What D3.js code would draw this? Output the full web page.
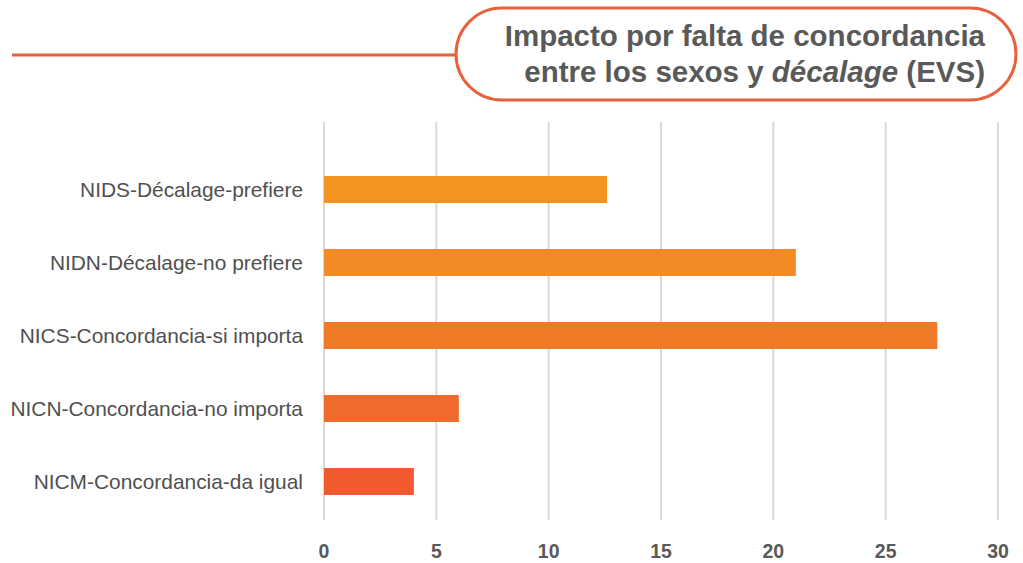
<!DOCTYPE html>
<html lang="es">
<head>
    <meta charset="UTF-8">
    <title>Impacto por falta de concordancia</title>
    <script src="https://d3js.org/d3.v7.min.js"></script>
    <style>
        body { margin: 0; background: #fff; }
        text { font-family: "Liberation Sans", Arial, sans-serif; }
    </style>
</head>
<body>
<svg id="chart" width="1023" height="563"></svg>
<script>
    const categories = [
        "NIDS-Décalage-prefiere",
        "NIDN-Décalage-no prefiere",
        "NICS-Concordancia-si importa",
        "NICN-Concordancia-no importa",
        "NICM-Concordancia-da igual"
    ];
    const values = [12.6, 21, 27.3, 6, 4];
    const barColors = ["#f39420", "#f28a26", "#ef7b28", "#ef6a2c", "#f15a2e"];
    const xTicks = [0, 5, 10, 15, 20, 25, 30];

    const svg = d3.select("#chart");

    // title box
    svg.append("line")
        .attr("x1", 12).attr("x2", 456)
        .attr("y1", 55).attr("y2", 55)
        .attr("stroke", "#e8613f").attr("stroke-width", 3);
    svg.append("rect")
        .attr("x", 456).attr("y", 8)
        .attr("width", 560).attr("height", 92)
        .attr("rx", 46).attr("ry", 46)
        .attr("fill", "#fff")
        .attr("stroke", "#e8613f").attr("stroke-width", 3);

    const title = svg.append("text")
        .attr("text-anchor", "end")
        .attr("fill", "#595959")
        .attr("font-size", 29.5)
        .attr("font-weight", "bold");
    title.append("tspan").attr("x", 985).attr("y", 46).text("Impacto por falta de concordancia");
    const t2 = title.append("tspan").attr("x", 985).attr("y", 82);
    t2.append("tspan").text("entre los sexos y ");
    t2.append("tspan").attr("font-style", "italic").text("décalage");
    t2.append("tspan").text(" (EVS)");

    const x = d3.scaleLinear().domain([0, 30]).range([324, 998]);
    const y = d3.scaleBand().domain(categories).range([153, 518]).paddingInner(0.63).paddingOuter(0.315);

    // gridlines
    svg.append("g").selectAll("line")
        .data(xTicks)
        .join("line")
        .attr("x1", d => x(d)).attr("x2", d => x(d))
        .attr("y1", 122).attr("y2", 520)
        .attr("stroke", "#d9d9d9").attr("stroke-width", 2);

    // bars
    svg.append("g").selectAll("rect")
        .data(values)
        .join("rect")
        .attr("x", x(0))
        .attr("y", (d, i) => y(categories[i]))
        .attr("width", d => x(d) - x(0))
        .attr("height", y.bandwidth())
        .attr("fill", (d, i) => barColors[i]);

    // category labels
    svg.append("g").selectAll("text")
        .data(categories)
        .join("text")
        .attr("x", 303)
        .attr("y", d => y(d) + y.bandwidth() / 2)
        .attr("dy", "0.35em")
        .attr("text-anchor", "end")
        .attr("fill", "#505050")
        .attr("font-size", 20.9)
        .text(d => d);

    // x tick labels
    svg.append("g").selectAll("text")
        .data(xTicks)
        .join("text")
        .attr("x", d => x(d))
        .attr("y", 551)
        .attr("dy", "0.35em")
        .attr("text-anchor", "middle")
        .attr("fill", "#595959")
        .attr("font-size", 19.5)
        .attr("font-weight", "bold")
        .text(d => d);
</script>
</body>
</html>
